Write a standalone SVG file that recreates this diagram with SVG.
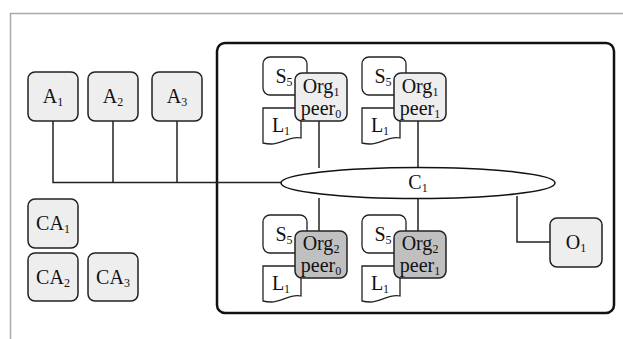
<svg xmlns="http://www.w3.org/2000/svg" width="623" height="339" viewBox="0 0 623 339">
<style>
text{font-family:"Liberation Serif","Times New Roman",serif;font-size:20px;fill:#111;text-anchor:middle}
.sub{font-size:12px}
.box{fill:#eeeeee;stroke:#222;stroke-width:1.5}
.dark{fill:#c0c0c0;stroke:#222;stroke-width:1.5}
.plain{fill:#fff;stroke:#222;stroke-width:1.3}
.wire{fill:none;stroke:#222;stroke-width:1.5}
</style>
<defs>
<g id="peerbase">
<rect class="plain" x="263" y="57" width="44" height="38" rx="7"/>
<path class="plain" d="M263,108 H301 V138 C291,135 282,144 271,144 C268,144 265,143.5 263,143 Z"/>
<text x="284" y="83">S<tspan class="sub" dy="3">5</tspan></text>
<text x="281" y="132">L<tspan class="sub" dy="3">1</tspan></text>
</g>
</defs>
<rect width="623" height="339" fill="#fff"/>
<path d="M10.5,339 V13.5 H623" fill="none" stroke="#aaa" stroke-width="1.5"/>
<rect id="org-frame" x="217" y="43" width="397" height="270" rx="8" fill="none" stroke="#111" stroke-width="2.5"/>
<g id="connectors" class="wire">
<path class="wire" d="M53,121 V182.5 H282"/>
<path class="wire" d="M113,121 V182.5"/>
<path class="wire" d="M177,121 V182.5"/>
<path class="wire" d="M319,121 V168"/>
<path class="wire" d="M418,121 V168"/>
<path class="wire" d="M319,198 V232"/>
<path class="wire" d="M418,198 V232"/>
<path class="wire" d="M517,196 V242 H550"/>
</g>
<g id="C1">
<ellipse cx="418" cy="183" rx="137" ry="15.5" fill="#fff" stroke="#111" stroke-width="1.5"/>
<text x="418" y="189">C<tspan class="sub" dy="3">1</tspan></text>
</g>
<g id="A1"><rect class="box" x="28" y="72" width="50" height="49" rx="7"/><text x="53" y="103">A<tspan class="sub" dy="3">1</tspan></text></g>
<g id="A2"><rect class="box" x="88" y="72" width="50" height="49" rx="7"/><text x="113" y="103">A<tspan class="sub" dy="3">2</tspan></text></g>
<g id="A3"><rect class="box" x="152" y="72" width="50" height="49" rx="7"/><text x="177" y="103">A<tspan class="sub" dy="3">3</tspan></text></g>
<g id="CA1"><rect class="box" x="28" y="199" width="50" height="49" rx="7"/><text x="53" y="230">CA<tspan class="sub" dy="3">1</tspan></text></g>
<g id="CA2"><rect class="box" x="28" y="253" width="50" height="48" rx="7"/><text x="53" y="284">CA<tspan class="sub" dy="3">2</tspan></text></g>
<g id="CA3"><rect class="box" x="88" y="253" width="50" height="48" rx="7"/><text x="113" y="284">CA<tspan class="sub" dy="3">3</tspan></text></g>
<g id="O1"><rect class="box" x="550" y="218" width="52" height="49" rx="7"/><text x="576" y="249">O<tspan class="sub" dy="3">1</tspan></text></g>
<g id="org1-peer0">
<use href="#peerbase"/>
<rect class="box" x="295" y="73" width="52" height="48" rx="7"/>
<text x="321" y="93">Org<tspan class="sub" dy="3">1</tspan></text>
<text x="321" y="115">peer<tspan class="sub" dy="3">0</tspan></text>
</g>
<g id="org1-peer1">
<use href="#peerbase" x="99"/>
<rect class="box" x="394" y="73" width="52" height="48" rx="7"/>
<text x="420" y="93">Org<tspan class="sub" dy="3">1</tspan></text>
<text x="420" y="115">peer<tspan class="sub" dy="3">1</tspan></text>
</g>
<g id="org2-peer0">
<use href="#peerbase" y="158"/>
<rect class="dark" x="295" y="231" width="52" height="47" rx="7"/>
<text x="321" y="250">Org<tspan class="sub" dy="3">2</tspan></text>
<text x="321" y="272">peer<tspan class="sub" dy="3">0</tspan></text>
</g>
<g id="org2-peer1">
<use href="#peerbase" x="99" y="158"/>
<rect class="dark" x="394" y="231" width="52" height="47" rx="7"/>
<text x="420" y="250">Org<tspan class="sub" dy="3">2</tspan></text>
<text x="420" y="272">peer<tspan class="sub" dy="3">1</tspan></text>
</g>
</svg>
